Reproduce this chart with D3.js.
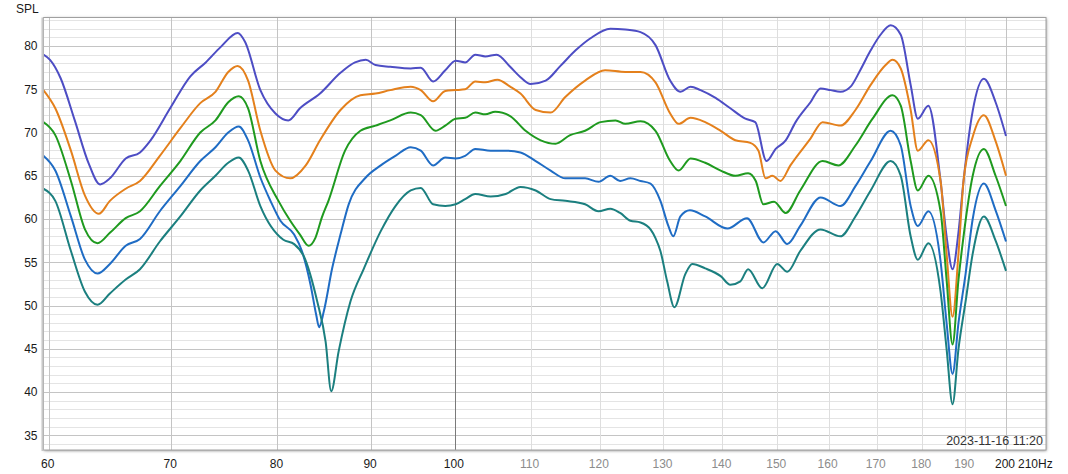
<!DOCTYPE html>
<html>
<head>
<meta charset="utf-8">
<script src="https://cdn.jsdelivr.net/npm/d3@7"></script>
<style>
  html, body { margin: 0; padding: 0; background: #ffffff; }
  svg { display: block; font-family: "Liberation Sans", Arial, sans-serif; }
</style>
</head>
<body>
<svg id="chart" width="1068" height="474"></svg>
<script>
// ---------- data (frequency Hz, SPL dB) ----------
const seriesPurple = [[59.6,79.0],[60.1,78.4],[60.9,76.3],[62.0,71.4],[63.1,66.4],[64.0,64.0],[64.8,64.7],[66.1,67.0],[67.3,67.7],[68.2,69.1],[69.9,72.8],[71.7,76.5],[73.1,78.1],[74.5,79.9],[76.1,81.5],[76.8,80.5],[78.3,74.9],[79.8,72.2],[81.1,71.4],[82.3,72.8],[84.4,74.5],[86.6,76.9],[88.2,78.1],[89.4,78.4],[90.5,77.8],[92.2,77.6],[94.6,77.4],[95.8,77.5],[97.3,75.9],[98.8,77.2],[100.1,78.3],[101.3,78.1],[102.6,79.0],[103.9,78.8],[105.4,79.0],[107.2,77.6],[108.6,76.4],[110.0,75.6],[112.1,76.0],[114.2,77.7],[116.4,79.5],[118.6,80.9],[121.6,82.0],[123.9,81.9],[126.3,81.6],[128.7,80.1],[131.1,76.0],[132.8,74.7],[134.5,75.3],[136.2,74.9],[138.8,74.0],[141.4,72.8],[144.1,71.6],[145.9,71.2],[148.0,66.7],[149.7,68.1],[151.6,69.1],[153.5,71.2],[156.4,73.5],[158.4,75.1],[160.4,74.9],[162.4,74.7],[164.5,75.3],[166.5,77.2],[168.7,79.5],[170.8,81.3],[173.0,82.4],[175.2,81.3],[177.4,75.5],[179.0,71.6],[181.4,73.1],[184.2,64.4],[185.6,58.0],[187.0,54.2],[188.4,58.5],[189.6,64.4],[191.8,72.5],[194.5,76.2],[197.4,73.5],[200,69.6]];

const seriesOrange = [[59.6,74.9],[60.5,72.8],[61.7,67.9],[62.8,62.7],[63.9,60.6],[64.8,62.1],[66.1,63.5],[67.3,64.4],[69.0,67.3],[70.8,70.5],[72.6,73.4],[74.0,74.7],[75.2,77.0],[76.1,77.7],[77.1,76.0],[78.3,70.2],[79.8,65.6],[81.3,64.7],[82.9,66.2],[84.4,69.1],[86.6,72.6],[88.8,74.3],[90.5,74.5],[92.2,74.9],[94.6,75.3],[95.8,74.9],[97.3,73.6],[98.8,74.8],[100.1,74.9],[101.3,75.0],[102.6,75.9],[103.9,75.8],[105.5,76.1],[107.2,75.3],[108.6,74.5],[110.7,72.6],[112.8,72.3],[114.9,74.1],[117.8,76.0],[120.8,77.2],[123.9,77.0],[126.3,77.0],[128.7,75.8],[131.1,72.2],[132.5,71.0],[134.5,71.7],[137.0,71.2],[139.7,70.2],[142.3,69.1],[145.0,68.8],[146.5,67.9],[147.8,64.7],[149.1,65.0],[150.6,64.4],[152.5,66.2],[156.4,69.3],[158.8,71.2],[162.4,70.8],[165.5,72.6],[168.7,75.5],[171.9,77.8],[173.4,78.4],[175.2,77.4],[177.4,72.6],[179.0,67.9],[181.4,69.1],[184.2,64.4],[185.6,56.0],[187.0,48.7],[188.4,56.0],[189.6,64.4],[191.8,69.5],[194.5,72.0],[197.4,69.0],[200,65.0]];

const seriesGreen = [[59.6,71.2],[60.5,69.7],[61.7,64.4],[62.8,58.8],[63.8,57.2],[64.8,58.4],[66.1,60.1],[67.3,60.9],[69.0,63.8],[70.8,66.7],[72.6,70.0],[74.0,71.4],[75.2,73.5],[76.2,74.2],[77.1,72.8],[78.3,66.7],[80.1,62.1],[81.3,59.8],[82.3,58.2],[83.2,56.9],[83.9,57.8],[84.6,60.2],[85.3,62.1],[87.1,67.9],[88.8,70.2],[90.5,70.8],[92.2,71.4],[94.6,72.3],[95.8,72.0],[97.6,70.2],[98.8,70.8],[100.1,71.6],[101.3,71.7],[102.6,72.3],[103.9,72.1],[105.2,72.4],[107.2,71.9],[109.3,70.2],[111.4,69.1],[113.5,68.7],[115.6,69.7],[117.8,70.2],[120.1,71.2],[122.4,71.4],[123.9,71.0],[126.3,71.3],[128.7,70.2],[131.1,66.7],[132.5,65.6],[134.5,67.0],[137.0,66.5],[139.7,65.6],[142.3,65.0],[144.6,65.3],[146.0,64.4],[147.4,61.7],[149.4,62.0],[151.6,60.7],[154.4,63.3],[158.8,66.7],[162.0,66.2],[165.5,68.5],[169.1,71.6],[173.4,74.3],[175.2,73.1],[177.4,66.7],[179.0,63.3],[181.4,65.0],[184.2,60.9],[185.6,53.0],[187.0,45.5],[188.4,53.0],[189.6,58.0],[191.8,65.0],[194.5,68.1],[197.4,65.0],[200,61.5]];

const seriesBlue = [[59.6,67.3],[60.5,65.6],[61.7,60.3],[62.8,55.3],[63.8,53.7],[64.8,54.8],[66.1,56.9],[67.3,57.7],[69.0,60.9],[70.8,63.8],[72.6,66.7],[74.0,68.3],[75.2,70.0],[76.2,70.7],[77.1,69.1],[78.3,64.8],[79.3,62.1],[80.3,59.8],[81.7,58.2],[82.5,56.3],[83.4,52.4],[84.0,48.9],[84.3,47.5],[84.8,49.3],[85.7,54.3],[86.6,58.2],[87.5,61.7],[89.4,64.8],[91.1,66.2],[92.8,67.3],[94.6,68.3],[95.8,67.9],[97.3,66.2],[98.8,67.1],[100.1,67.0],[101.3,67.3],[102.6,68.1],[104.6,67.9],[106.6,67.9],[108.6,67.7],[110.7,66.7],[112.8,65.6],[114.9,64.7],[117.8,64.7],[119.8,64.3],[121.6,65.0],[123.1,64.4],[124.7,64.7],[126.3,64.4],[127.9,64.1],[129.5,62.1],[130.8,59.2],[131.6,58.0],[132.8,60.3],[134.4,61.0],[137.0,60.3],[140.9,58.9],[144.4,60.1],[147.4,57.3],[149.7,58.6],[151.9,57.1],[154.4,59.2],[158.4,62.5],[162.4,61.5],[165.5,63.8],[168.7,66.7],[173.0,70.2],[175.2,68.5],[177.4,61.5],[179.0,59.2],[181.4,60.9],[184.2,55.1],[185.6,48.0],[187.0,42.1],[188.4,48.0],[190.1,53.7],[191.8,60.0],[194.5,64.1],[197.4,61.0],[200,57.4]];

const seriesTeal = [[59.6,63.5],[60.5,62.1],[61.7,56.3],[62.8,51.6],[63.8,50.1],[64.8,51.4],[66.1,53.0],[67.3,54.2],[69.0,57.4],[70.8,60.3],[72.6,63.3],[74.0,65.0],[75.2,66.5],[76.2,67.1],[77.1,65.6],[78.3,61.5],[80.6,57.6],[81.7,57.1],[82.7,55.7],[84.1,50.5],[85.0,45.8],[85.6,40.1],[86.4,44.7],[87.7,50.5],[89.2,54.3],[91.1,58.6],[92.8,61.5],[94.6,63.3],[95.8,63.6],[97.3,61.7],[98.8,61.5],[100.1,61.7],[101.3,62.3],[102.6,62.9],[104.6,62.6],[106.6,62.9],[108.6,63.7],[110.7,63.3],[112.8,62.3],[114.9,62.1],[117.8,61.7],[119.8,60.9],[121.6,61.2],[123.1,60.7],[124.7,59.8],[126.3,59.6],[127.9,58.8],[128.7,57.8],[129.5,56.3],[130.6,52.8],[131.8,49.8],[133.6,53.6],[134.8,54.8],[137.0,54.3],[139.7,53.4],[141.4,52.4],[143.2,52.8],[144.6,54.2],[147.2,52.0],[150.0,54.8],[151.9,53.9],[154.4,56.3],[158.4,58.8],[162.4,58.0],[165.5,60.3],[168.7,63.3],[173.0,66.7],[175.2,65.0],[177.4,58.0],[179.0,55.3],[181.4,57.2],[184.2,51.6],[185.6,45.0],[187.0,38.6],[188.4,45.0],[190.1,50.5],[191.8,56.0],[194.5,60.3],[197.4,57.5],[200,54.0]];

const seriesList = [seriesPurple, seriesOrange, seriesGreen, seriesBlue, seriesTeal];
const seriesColors = ["#4d4dc4", "#e4801c", "#1f9a1f", "#1f6cc4", "#1b7f7f"];

const yTicks = [35, 40, 45, 50, 55, 60, 65, 70, 75, 80];
const xTicks = [60, 70, 80, 90, 100, 110, 120, 130, 140, 150, 160, 170, 180, 190, 200];
const xTickDark = [60, 70, 80, 90, 100, 200];
const yAxisTitle = "SPL";
const xUnitLabel = "210Hz";
const timestamp = "2023-11-16 11:20";

// ---------- layout ----------
const plot = { left: 43.5, top: 17.5, right: 1046, bottom: 450 };
const svg = d3.select("#chart");

const x = d3.scaleLog().domain([60, 200]).range([48.7, 1006]);
const y = d3.scaleLinear().domain([35, 80]).range([435.3, 46]);

const defs = svg.append("defs");
const f = defs.append("filter").attr("id", "shadow").attr("x", "-5%").attr("y", "-5%").attr("width", "110%").attr("height", "110%");
f.append("feDropShadow").attr("dx", 0.5).attr("dy", 0.8).attr("stdDeviation", 1.8).attr("flood-color", "#666").attr("flood-opacity", 0.75);
defs.append("clipPath").attr("id", "clip").append("rect")
  .attr("x", plot.left).attr("y", plot.top)
  .attr("width", plot.right - plot.left).attr("height", plot.bottom - plot.top);

// frame with shadow
svg.append("rect")
  .attr("x", plot.left).attr("y", plot.top)
  .attr("width", plot.right - plot.left).attr("height", plot.bottom - plot.top)
  .attr("fill", "#fff").attr("filter", "url(#shadow)");

const grid = svg.append("g").attr("clip-path", "url(#clip)");
// horizontal grid every 1 dB
const yMinor = d3.range(33, 84);
grid.selectAll("line.h").data(yMinor).join("line")
  .attr("x1", plot.left).attr("x2", plot.right)
  .attr("y1", d => Math.round(y(d)) + 0.5).attr("y2", d => Math.round(y(d)) + 0.5)
  .attr("stroke", d => d % 5 === 0 ? "#c4c4c4" : "#e4e4e4")
  .attr("stroke-width", 1);
// vertical grid every 10 Hz
grid.selectAll("line.v").data(xTicks).join("line")
  .attr("x1", d => Math.round(x(d)) + 0.5).attr("x2", d => Math.round(x(d)) + 0.5)
  .attr("y1", plot.top).attr("y2", plot.bottom)
  .attr("stroke", d => d === 100 ? "#7a7a7a" : (xTickDark.includes(d) ? "#c4c4c4" : "#dedede"))
  .attr("stroke-width", 1);

// curves
const line = d3.line().x(d => x(d[0])).y(d => y(d[1])).curve(d3.curveMonotoneX);
const curves = svg.append("g").attr("clip-path", "url(#clip)");
curves.selectAll("path").data(seriesList).join("path")
  .attr("d", line)
  .attr("fill", "none")
  .attr("stroke", (d, i) => seriesColors[i])
  .attr("stroke-width", 2)
  .attr("stroke-linejoin", "round");

// frame border
svg.append("rect")
  .attr("x", plot.left).attr("y", plot.top)
  .attr("width", plot.right - plot.left).attr("height", plot.bottom - plot.top)
  .attr("fill", "none").attr("stroke", "#a0a0a0").attr("stroke-width", 1);
svg.append("line")
  .attr("x1", plot.left - 1).attr("x2", plot.left - 1)
  .attr("y1", plot.top).attr("y2", plot.bottom + 1)
  .attr("stroke", "#c8c8c8").attr("stroke-width", 2);

// y axis labels
svg.append("g").selectAll("text").data(yTicks).join("text")
  .attr("x", 37.5).attr("y", d => y(d))
  .attr("dy", "0.36em")
  .attr("text-anchor", "end")
  .attr("font-size", 12)
  .attr("fill", "#1a1a1a")
  .text(d => d);

svg.append("text").attr("x", 16).attr("y", 12.5)
  .attr("font-size", 12).attr("fill", "#1a1a1a").text(yAxisTitle);

// x axis labels
svg.append("g").selectAll("text").data(xTicks).join("text")
  .attr("x", d => x(d) - 1).attr("y", 467.5)
  .attr("text-anchor", "middle")
  .attr("font-size", 12)
  .attr("fill", d => xTickDark.includes(d) ? "#1a1a1a" : "#8c8c8c")
  .text(d => d);

svg.append("text").attr("x", 1018).attr("y", 467.5)
  .attr("font-size", 12).attr("fill", "#1a1a1a").text(xUnitLabel);

// timestamp
svg.append("text").attr("x", 1043).attr("y", 445)
  .attr("text-anchor", "end")
  .attr("font-size", 12.5).attr("fill", "#333").text(timestamp);
</script>
</body>
</html>
